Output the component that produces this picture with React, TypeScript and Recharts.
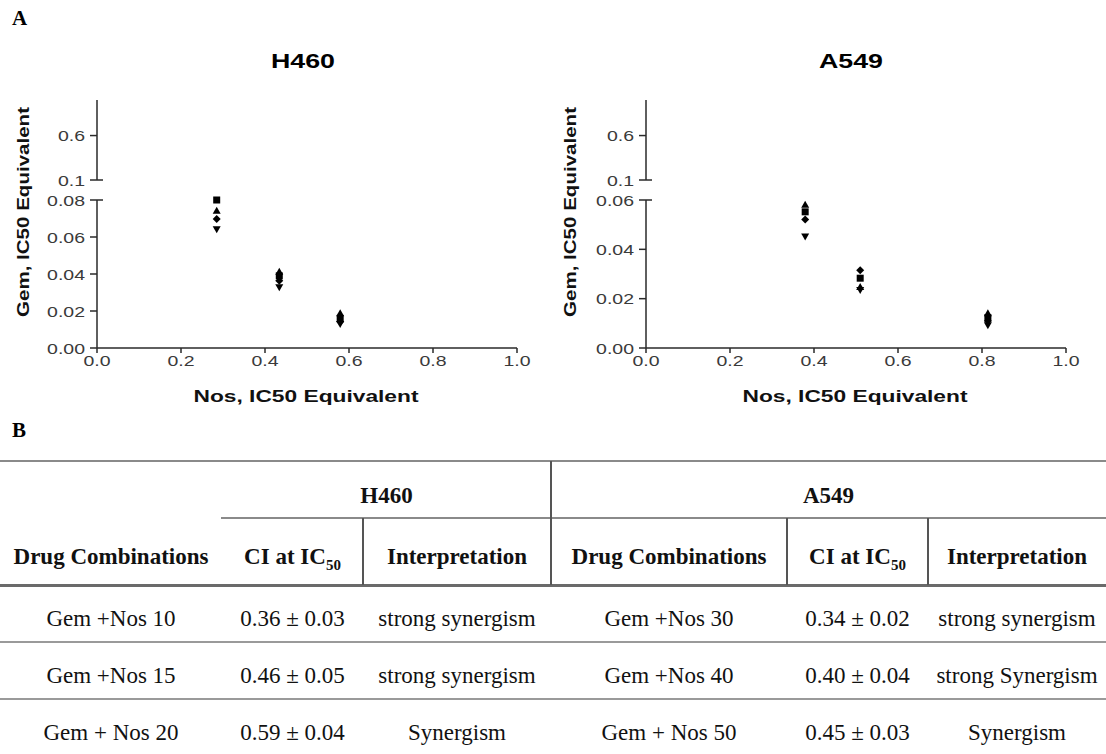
import React from "react";
import { Scatter, ScatterChart, XAxis, YAxis } from "recharts";

// isobologram points: x = Nos fraction, y = Gem fraction (IC50 equivalents)
const nosTicks = [0, 0.2, 0.4, 0.6, 0.8, 1.0];
const upperTicks = [0.1, 0.6];
const h460Ticks = [0, 0.02, 0.04, 0.06, 0.08];
const a549Ticks = [0, 0.02, 0.04, 0.06];

const h460Nos = [0.285, 0.434, 0.579];
const h460Square = [0.08, 0.039, 0.016];
const h460Up = [0.0742, 0.0412, 0.0188];
const h460Diamond = [0.0697, 0.0364, 0.0142];
const h460Down = [0.0642, 0.0328, 0.013];

const a549Nos = [0.379, 0.51, 0.814];
const a549Square = [0.0552, 0.0283, 0.0123];
const a549Up = [0.0581, 0.0247, 0.0141];
const a549Diamond = [0.0521, 0.0315, 0.0109];
const a549Down = [0.0452, 0.0235, 0.0092];

// table B
const h460Combos = ["Gem +Nos 10", "Gem +Nos 15", "Gem + Nos 20"];
const h460CI = ["0.36 ± 0.03", "0.46 ± 0.05", "0.59 ± 0.04"];
const h460Interp = ["strong synergism", "strong synergism", "Synergism"];
const a549Combos = ["Gem +Nos 30", "Gem +Nos 40", "Gem + Nos 50"];
const a549CI = ["0.34 ± 0.02", "0.40 ± 0.04", "0.45 ± 0.03"];
const a549Interp = ["strong synergism", "strong Synergism", "Synergism"];

const AXIS = "#2a2a2a";
const TICK_TEXT = "#3a3a3a";
const SANS = "'Liberation Sans', Arial, sans-serif";
const SERIF = "'Liberation Serif', 'Times New Roman', serif";
const STRETCH = 1.3;

function YTick(props: any) {
  const { x, y, payload, digits, breaks } = props;
  const ax = x + 8;
  const isBreak = breaks.includes(payload.value);
  return (
    <g>
      <line x1={ax - 7} x2={isBreak ? ax + 6 : ax} y1={y} y2={y} stroke={AXIS} strokeWidth={1.5} />
      <text
        transform={`translate(${ax - 12},${y + 5.5}) scale(${STRETCH},1)`}
        textAnchor="end"
        fontFamily={SANS}
        fontSize={15}
        fill={TICK_TEXT}
      >
        {Number(payload.value).toFixed(digits)}
      </text>
    </g>
  );
}

function XTick(props: any) {
  const { x, y, payload } = props;
  return (
    <text
      transform={`translate(${x},${y + 11}) scale(${STRETCH},1)`}
      textAnchor="middle"
      fontFamily={SANS}
      fontSize={15}
      fill={TICK_TEXT}
    >
      {Number(payload.value).toFixed(1)}
    </text>
  );
}

function Marker(props: any) {
  const { cx, cy, kind } = props;
  if (cx == null || cy == null) return null;
  if (kind === "square") return <rect x={cx - 3.5} y={cy - 3.5} width={7} height={7} fill="#000" />;
  if (kind === "up") return <polygon points={`${cx},${cy - 4} ${cx + 4},${cy + 3} ${cx - 4},${cy + 3}`} fill="#000" />;
  if (kind === "down") return <polygon points={`${cx - 4},${cy - 3} ${cx + 4},${cy - 3} ${cx},${cy + 4}`} fill="#000" />;
  return <polygon points={`${cx},${cy - 4} ${cx + 4},${cy} ${cx},${cy + 4} ${cx - 4},${cy}`} fill="#000" />;
}

interface PanelProps {
  left: number;
  nos: number[];
  square: number[];
  up: number[];
  diamond: number[];
  down: number[];
  lowerMax: number;
  lowerTicks: number[];
}

function Panel({ left, nos, square, up, diamond, down, lowerMax, lowerTicks }: PanelProps) {
  const pts = (vals: number[]) => nos.map((x, i) => ({ x, y: vals[i] }));
  const series: [string, number[]][] = [
    ["square", square],
    ["up", up],
    ["diamond", diamond],
    ["down", down],
  ];
  const xAxisProps = { type: "number" as const, dataKey: "x", domain: [0, 1], allowDataOverflow: true };
  return (
    <>
      {/* upper segment of the broken y axis */}
      <div style={{ position: "absolute", left, top: 90 }}>
        <ScatterChart width={540} height={100} margin={{ top: 10, right: 23, bottom: 10, left: 0 }}>
          <XAxis {...xAxisProps} hide />
          <YAxis
            type="number"
            dataKey="y"
            domain={[0.1, 1]}
            allowDataOverflow
            ticks={upperTicks}
            interval={0}
            width={97}
            tickSize={6}
            tickMargin={2}
            tickLine={false}
            axisLine={{ stroke: AXIS, strokeWidth: 1.5 }}
            tick={(p: any) => <YTick {...p} digits={1} breaks={[0.1]} />}
          />
          {series.map(([kind, vals]) => (
            <Scatter key={kind} data={pts(vals)} isAnimationActive={false} shape={() => <g />} />
          ))}
        </ScatterChart>
      </div>
      {/* lower segment */}
      <div style={{ position: "absolute", left, top: 190 }}>
        <ScatterChart width={540} height={230} margin={{ top: 10, right: 23, bottom: 10, left: 0 }}>
          <XAxis
            {...xAxisProps}
            ticks={nosTicks}
            interval={0}
            height={62}
            tickSize={5}
            tickMargin={2}
            axisLine={{ stroke: AXIS, strokeWidth: 1.5 }}
            tickLine={{ stroke: AXIS, strokeWidth: 1.5 }}
            tick={(p: any) => <XTick {...p} />}
          />
          <YAxis
            type="number"
            dataKey="y"
            domain={[0, lowerMax]}
            ticks={lowerTicks}
            interval={0}
            width={97}
            tickSize={6}
            tickMargin={2}
            tickLine={false}
            axisLine={{ stroke: AXIS, strokeWidth: 1.5 }}
            tick={(p: any) => <YTick {...p} digits={2} breaks={[lowerMax]} />}
          />
          {series.map(([kind, vals]) => (
            <Scatter
              key={kind}
              data={pts(vals)}
              isAnimationActive={false}
              shape={(p: any) => <Marker {...p} kind={kind} />}
            />
          ))}
        </ScatterChart>
      </div>
    </>
  );
}

const cols = [0, 222, 363, 551, 787, 928, 1106];

function Cell({ col, span = 1, cy, bold = false, children }: any) {
  const l = cols[col];
  const r = cols[col + span];
  return (
    <div
      style={{
        position: "absolute",
        left: l,
        width: r - l,
        top: cy - 16,
        height: 32,
        lineHeight: "32px",
        textAlign: "center",
        fontFamily: SERIF,
        fontSize: 23,
        fontWeight: bold ? "bold" : "normal",
        color: "#111",
        whiteSpace: "nowrap",
      }}
    >
      {children}
    </div>
  );
}

function HLine({ x1, x2, y, w = 2, c = "#8a8a8a" }: any) {
  return <div style={{ position: "absolute", left: x1, width: x2 - x1, top: y - w / 2, height: w, background: c }} />;
}

function VLine({ x, y1, y2 }: any) {
  return <div style={{ position: "absolute", left: x - 0.75, width: 1.5, top: y1, height: y2 - y1, background: "#555" }} />;
}

const CIHead = () => (
  <span>
    CI at IC<span style={{ fontSize: 15, position: "relative", top: 6 }}>50</span>
  </span>
);

export default function App() {
  const rowY = [619, 676, 733];
  return (
    <div style={{ position: "absolute", left: 0, top: 0, width: 1106, height: 754, background: "#fff", overflow: "hidden" }}>
      <svg style={{ position: "absolute", left: 0, top: 0 }} width={1106} height={452}>
        <text x={12} y={25} fontFamily={SERIF} fontWeight="bold" fontSize={21}>A</text>
        <text x={303} y={68} textAnchor="middle" fontFamily={SANS} fontWeight="bold" fontSize={20} textLength={64} lengthAdjust="spacingAndGlyphs">H460</text>
        <text x={851} y={68} textAnchor="middle" fontFamily={SANS} fontWeight="bold" fontSize={20} textLength={64} lengthAdjust="spacingAndGlyphs">A549</text>
        <text x={306} y={402} textAnchor="middle" fontFamily={SANS} fontWeight="bold" fontSize={17} textLength={225} lengthAdjust="spacingAndGlyphs" fill="#111">Nos, IC50 Equivalent</text>
        <text x={855} y={402} textAnchor="middle" fontFamily={SANS} fontWeight="bold" fontSize={17} textLength={225} lengthAdjust="spacingAndGlyphs" fill="#111">Nos, IC50 Equivalent</text>
        <text transform="translate(29,212) rotate(-90)" textAnchor="middle" fontFamily={SANS} fontWeight="bold" fontSize={17} textLength={210} lengthAdjust="spacingAndGlyphs" fill="#111">Gem, IC50 Equivalent</text>
        <text transform="translate(576,212) rotate(-90)" textAnchor="middle" fontFamily={SANS} fontWeight="bold" fontSize={17} textLength={210} lengthAdjust="spacingAndGlyphs" fill="#111">Gem, IC50 Equivalent</text>
        <text x={12} y={437} fontFamily={SERIF} fontWeight="bold" fontSize={21}>B</text>
      </svg>

      <Panel left={0} nos={h460Nos} square={h460Square} up={h460Up} diamond={h460Diamond} down={h460Down} lowerMax={0.08} lowerTicks={h460Ticks} />
      <Panel left={549} nos={a549Nos} square={a549Square} up={a549Up} diamond={a549Diamond} down={a549Down} lowerMax={0.06} lowerTicks={a549Ticks} />

      {/* table B */}
      <HLine x1={0} x2={1106} y={461} />
      <HLine x1={221} x2={1106} y={518} />
      <HLine x1={0} x2={1106} y={585} w={3} c="#6a6a6a" />
      <HLine x1={0} x2={1106} y={642} c="#9a9a9a" />
      <HLine x1={0} x2={1106} y={699} c="#9a9a9a" />
      <VLine x={551} y1={461} y2={585} />
      <VLine x={363} y1={518} y2={585} />
      <VLine x={787} y1={518} y2={585} />
      <VLine x={928} y1={518} y2={585} />

      <Cell col={1} span={2} cy={496} bold>H460</Cell>
      <Cell col={3} span={3} cy={496} bold>A549</Cell>
      <Cell col={0} cy={557} bold>Drug Combinations</Cell>
      <Cell col={1} cy={557} bold><CIHead /></Cell>
      <Cell col={2} cy={557} bold>Interpretation</Cell>
      <Cell col={3} cy={557} bold>Drug Combinations</Cell>
      <Cell col={4} cy={557} bold><CIHead /></Cell>
      <Cell col={5} cy={557} bold>Interpretation</Cell>

      {rowY.map((cy, i) => (
        <React.Fragment key={i}>
          <Cell col={0} cy={cy}>{h460Combos[i]}</Cell>
          <Cell col={1} cy={cy}>{h460CI[i]}</Cell>
          <Cell col={2} cy={cy}>{h460Interp[i]}</Cell>
          <Cell col={3} cy={cy}>{a549Combos[i]}</Cell>
          <Cell col={4} cy={cy}>{a549CI[i]}</Cell>
          <Cell col={5} cy={cy}>{a549Interp[i]}</Cell>
        </React.Fragment>
      ))}
    </div>
  );
}
